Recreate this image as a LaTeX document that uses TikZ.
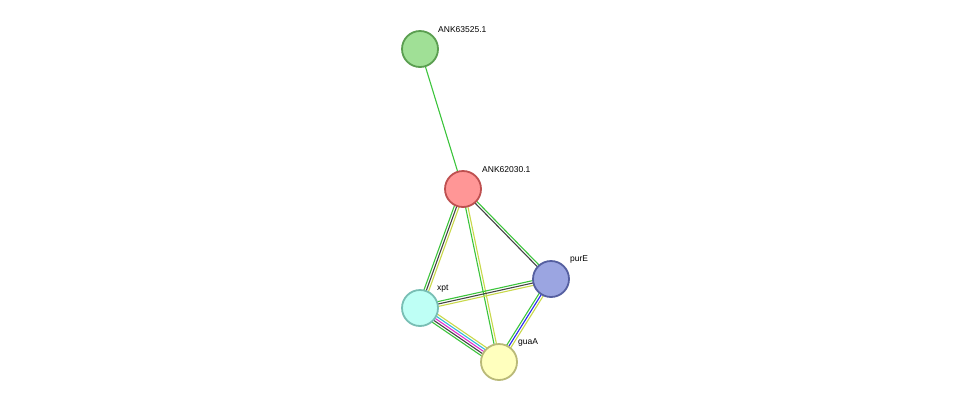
\documentclass[tikz,border=0pt]{standalone}
\usepackage{fontspec}
\setmainfont{Liberation Sans}
\usetikzlibrary{calc,backgrounds}
\definecolor{eyel}{HTML}{C8D84A}
\definecolor{egrn}{HTML}{3CC43C}
\definecolor{edrk}{HTML}{444444}
\definecolor{eblu}{HTML}{2A2AF0}
\definecolor{ecyn}{HTML}{33B8D8}
\definecolor{emag}{HTML}{E030D0}
\tikzset{
  prot/.style={circle,minimum size=36pt,inner sep=0pt,line width=1.8pt},
  lab/.style={anchor=south west,font=\fontsize{8.5pt}{10pt}\selectfont,inner sep=0pt},
  edge/.style={line width=1.1pt}
}
\newcommand{\medge}[3]{%
  \foreach \c [count=\i] in {#3}{\xdef\nn{\i}}%
  \foreach \c [count=\i] in {#3}{%
    \pgfmathsetmacro{\off}{(\i-(\nn+1)/2)*2.4}%
    \draw[edge,draw=\c] ($(#1)!\off pt!90:(#2)$) -- ($(#2)!\off pt!-90:(#1)$);
  }}
\begin{document}
\begin{tikzpicture}[x=1pt,y=-1pt]
\useasboundingbox (0,0) rectangle (976,408);
\node[prot,draw={rgb,255:red,90;green,158;blue,80},fill={rgb,255:red,160;green,224;blue,150}] (a) at (420,49) {};
\node[prot,draw={rgb,255:red,190;green,80;blue,80},fill={rgb,255:red,255;green,150;blue,150}] (b) at (463,189) {};
\node[prot,draw={rgb,255:red,85;green,95;blue,160},fill={rgb,255:red,155;green,165;blue,225}] (p) at (551,279) {};
\node[prot,draw={rgb,255:red,120;green,190;blue,180},fill={rgb,255:red,190;green,255;blue,245}] (x) at (420,308) {};
\node[prot,draw={rgb,255:red,185;green,185;blue,120},fill={rgb,255:red,255;green,255;blue,190}] (g) at (499,362) {};
\node[lab] (la) at (438,33) {ANK63525.1};
\node[lab] (lb) at (482,173) {ANK62030.1};
\node[lab] (lp) at (570,263) {purE};
\node[lab] (lx) at (437,292) {xpt};
\node[lab] (lg) at (518,346) {guaA};
\begin{scope}[on background layer]
\medge{a}{b}{egrn}
\medge{b}{x}{egrn,edrk,eyel}
\medge{b}{p}{edrk,egrn}
\medge{b}{g}{egrn,eyel}
\medge{x}{p}{eyel,edrk,egrn}
\medge{x}{g}{egrn,edrk,emag,ecyn,eyel}
\medge{p}{g}{egrn,eblu,eyel}
\end{scope}
\end{tikzpicture}
\end{document}
